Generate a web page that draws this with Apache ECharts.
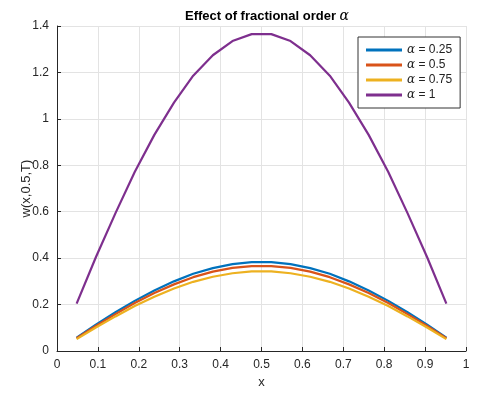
<!DOCTYPE html>
<html>
<head>
<meta charset="utf-8">
<script src="https://cdn.jsdelivr.net/npm/echarts@6/dist/echarts.min.js"></script>
<style>
html,body{margin:0;padding:0;background:#fff;}
#main{width:496px;height:395px;}
</style>
</head>
<body>
<div id="main"></div>
<script>
// x points of the solution
var xs = [0.048, 0.095, 0.143, 0.190, 0.238, 0.286, 0.333, 0.381, 0.429, 0.476,
	0.524, 0.571, 0.619, 0.667, 0.714, 0.762, 0.810, 0.857, 0.905, 0.952];
var w025 = [0.057, 0.113, 0.167, 0.216, 0.261, 0.300, 0.333, 0.357, 0.374, 0.383,
	0.383, 0.374, 0.357, 0.333, 0.300, 0.261, 0.216, 0.167, 0.113, 0.057];
var w05 = [0.055, 0.108, 0.159, 0.207, 0.250, 0.287, 0.318, 0.342, 0.358, 0.366,
	0.366, 0.358, 0.342, 0.318, 0.287, 0.250, 0.207, 0.159, 0.108, 0.055];
var w075 = [0.051, 0.101, 0.149, 0.194, 0.234, 0.269, 0.298, 0.320, 0.335, 0.343,
	0.343, 0.335, 0.320, 0.298, 0.269, 0.234, 0.194, 0.149, 0.101, 0.051];
var w1 = [0.204, 0.404, 0.594, 0.771, 0.931, 1.070, 1.186, 1.274, 1.335, 1.365,
	1.365, 1.335, 1.274, 1.186, 1.070, 0.931, 0.771, 0.594, 0.404, 0.204];
var alphas = ['0.25', '0.5', '0.75', '1'];
var names = ['\u03b1 = 0.25', '\u03b1 = 0.5', '\u03b1 = 0.75', '\u03b1 = 1'];
var colors = ['#0072BD', '#D95319', '#EDB120', '#7E2F8E'];
var allData = [w025, w05, w075, w1];

function pairs(ys){
	var out = [];
	for (var i = 0; i < xs.length; i++) {
		out.push([xs[i], ys[i]]);
	}
	return out;
}

var series = [];
for (var k = 0; k < allData.length; k++) {
	series.push({
		name: names[k],
		type: 'line',
		data: pairs(allData[k]),
		showSymbol: false,
		symbol: 'none',
		lineStyle: {width: 2.2, color: colors[k]},
		itemStyle: {color: colors[k]}
	});
}

var axisCol = '#262626';
var chart = echarts.init(document.getElementById('main'));
var option = {
	animation: false,
	backgroundColor: '#fff',
	title: {
		text: '{b|Effect of fractional order }{a|\u03b1}',
		left: 262,
		textAlign: 'center',
		top: 4,
		textStyle: {
			rich: {
				b: {fontFamily: 'Arial, Liberation Sans', fontWeight: 'bold', fontSize: 13, color: '#000'},
				a: {fontFamily: 'DejaVu Serif', fontStyle: 'italic', fontWeight: 'normal', fontSize: 14, color: '#000'}
			}
		}
	},
	legend: {
		data: names,
		orient: 'vertical',
		left: 358,
		top: 37,
		padding: [7, 8, 7, 8],
		itemGap: 3,
		itemWidth: 36,
		itemHeight: 3,
		icon: 'rect',
		borderColor: '#333',
		borderWidth: 1,
		backgroundColor: '#fff',
		formatter: function(name){
			return '{a|\u03b1}{t| = ' + alphas[names.indexOf(name)] + '}';
		},
		textStyle: {
			fontSize: 12, color: '#222', lineHeight: 12,
			rich: {
				a: {fontFamily: 'DejaVu Serif', fontStyle: 'italic', fontSize: 12, color: '#222', lineHeight: 12},
				t: {fontFamily: 'Arial, Liberation Sans', fontSize: 12, color: '#222', lineHeight: 12}
			}
		}
	},
	grid: {left: 57, right: 30, top: 26, bottom: 44, containLabel: false},
	xAxis: {
		type: 'value',
		min: 0, max: 1, interval: 0.1,
		name: 'x',
		nameLocation: 'middle',
		nameGap: 24,
		nameTextStyle: {fontFamily: 'Arial, Liberation Sans', fontSize: 13, color: axisCol},
		axisLine: {show: true, lineStyle: {color: axisCol}},
		axisTick: {show: true, inside: true, length: 4, lineStyle: {color: axisCol}},
		axisLabel: {fontFamily: 'Arial, Liberation Sans', fontSize: 12, color: axisCol, margin: 8},
		splitLine: {show: true, lineStyle: {color: '#e3e3e3'}}
	},
	yAxis: {
		type: 'value',
		min: 0, max: 1.4, interval: 0.2,
		name: 'w(x,0.5,T)',
		nameLocation: 'middle',
		nameGap: 24,
		nameMoveOverlap: false,
		nameTextStyle: {fontFamily: 'Arial, Liberation Sans', fontSize: 13, color: axisCol},
		axisLine: {show: true, lineStyle: {color: axisCol}},
		axisTick: {show: true, inside: true, length: 4, lineStyle: {color: axisCol}},
		axisLabel: {fontFamily: 'Arial, Liberation Sans', fontSize: 12, color: axisCol, margin: 8},
		splitLine: {show: true, lineStyle: {color: '#e3e3e3'}}
	},
	series: series
};
chart.setOption(option);
</script>
</body>
</html>
